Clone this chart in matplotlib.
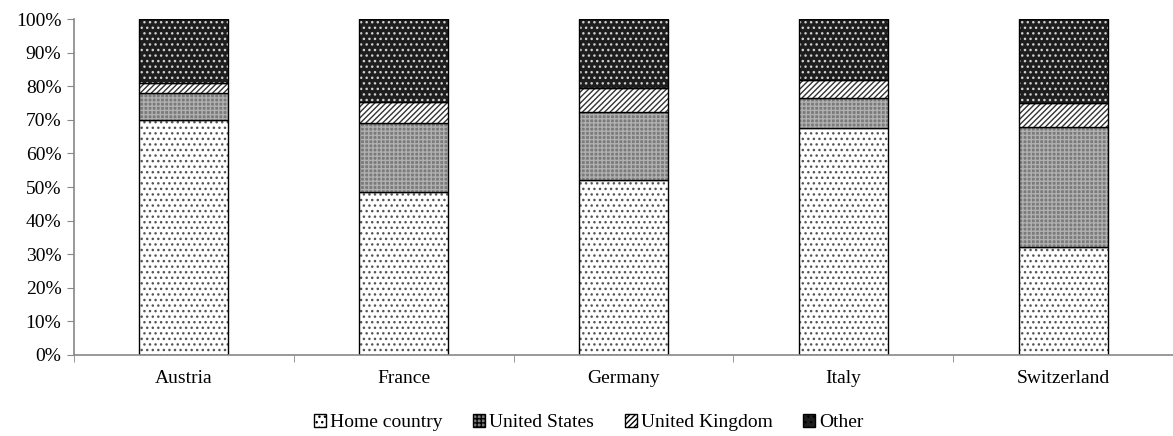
import matplotlib.pyplot as plt
import numpy as np

plt.rcParams['font.family'] = ['Liberation Serif', 'DejaVu Serif']
plt.rcParams['hatch.linewidth'] = 1.0

countries = ['Austria', 'France', 'Germany', 'Italy', 'Switzerland']
series = ['Home country', 'United States', 'United Kingdom', 'Other']
home = [70.0, 48.5, 52.0, 67.5, 32.0]
us = [8.0, 20.5, 20.5, 9.0, 36.0]
uk = [3.0, 6.3, 7.0, 5.5, 7.0]
other = [19.0, 24.7, 20.5, 18.0, 25.0]

# facecolor, hatch, hatch colour
styles = [('white', '...', '#555555'),
          ('#7a7a7a', '++++', '#b0b0b0'),
          ('white', '//////', '#333333'),
          ('#1e1e1e', '...', '#d0d0d0')]

fig = plt.figure(figsize=(11.73, 4.36), dpi=100)
ax = fig.add_axes([0.063, 0.186, 0.937, 0.770])

x = np.arange(len(countries))
bottom = np.zeros(len(countries))
for name, vals, (fc, h, hc) in zip(series, [home, us, uk, other], styles):
    ax.bar(x, vals, 0.405, bottom=bottom, facecolor=fc, edgecolor=hc,
           hatch=h, linewidth=0, label=name)
    # black outline on top of hatch
    ax.bar(x, vals, 0.405, bottom=bottom, facecolor='none', edgecolor='black', linewidth=1.0)
    bottom += np.array(vals)

ax.set_xlim(-0.5, len(countries) - 0.5)
ax.set_ylim(0, 100)
ax.set_yticks(np.arange(0, 101, 10))
ax.set_yticklabels([f'{v}%' for v in range(0, 101, 10)], fontsize=14)
ax.set_xticks(x)
ax.set_xticklabels(countries, fontsize=14)
ax.set_xticks(np.arange(-0.5, len(countries), 1), minor=True)
ax.tick_params(axis='x', which='major', length=0, pad=11)
ax.tick_params(axis='x', which='minor', length=5, color='#888888', direction='out')
ax.tick_params(axis='y', length=5, color='#888888', direction='out', pad=4)

for s in ['top', 'right']:
    ax.spines[s].set_visible(False)
for s in ['left', 'bottom']:
    ax.spines[s].set_color('#888888')
    ax.spines[s].set_linewidth(1.2)

handles, labels = ax.get_legend_handles_labels()
leg = ax.legend(handles, labels, loc='upper center', bbox_to_anchor=(0.5 - 0.063 / 2, -0.125),
                ncol=4, frameon=False, fontsize=14, handlelength=0.6, handleheight=0.6,
                handletextpad=0.2, columnspacing=1.6)
for p in leg.get_patches():
    p.set_edgecolor('black')
    p.set_linewidth(1.0)

fig.savefig('out.png', dpi=100)
